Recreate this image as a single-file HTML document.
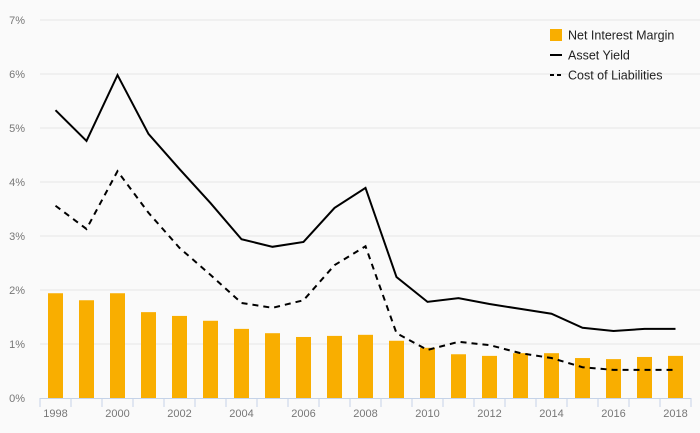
<!DOCTYPE html>
<html><head><meta charset="utf-8"><style>
body{margin:0;background:#fafafa;}
svg{display:block;font-family:"Liberation Sans",sans-serif;}
</style></head><body>
<svg id="c" width="700" height="433"></svg>
<script>
const years=[1998,1999,2000,2001,2002,2003,2004,2005,2006,2007,2008,2009,2010,2011,2012,2013,2014,2015,2016,2017,2018];
const nim=[1.94,1.81,1.94,1.59,1.52,1.43,1.28,1.20,1.13,1.15,1.17,1.06,0.93,0.81,0.78,0.83,0.83,0.74,0.72,0.76,0.78];
const assetYield=[5.33,4.76,5.98,4.89,4.24,3.61,2.94,2.80,2.89,3.52,3.89,2.24,1.78,1.85,1.74,1.65,1.56,1.30,1.24,1.28,1.28];
const costLiab=[3.56,3.13,4.20,3.43,2.78,2.28,1.76,1.67,1.81,2.46,2.81,1.20,0.89,1.04,0.98,0.83,0.74,0.57,0.52,0.52,0.52];
const yTicks=[0,1,2,3,4,5,6,7];
const xLabels=[1998,2000,2002,2004,2006,2008,2010,2012,2014,2016,2018];

const NS="http://www.w3.org/2000/svg";
const svg=document.getElementById('c');
const x0=40,band=31,y0=398,ppu=54;
const xs=i=>x0+band*i+band/2;
const ys=v=>y0-v*ppu;
function mk(t,a,p){const e=document.createElementNS(NS,t);for(const k in a)e.setAttribute(k,a[k]);(p||svg).appendChild(e);return e;}

yTicks.forEach(t=>{
  if(t>0){const g=mk('line',{x1:x0,x2:700,y1:ys(t),y2:ys(t),stroke:'#e6e6e6','stroke-width':1});
  
  }
  const l=mk('text',{x:25,y:ys(t)+4,'text-anchor':'end','font-size':11,fill:'#777'});
  l.textContent=t+'%';
  
  
});
years.forEach((yr,i)=>{
  const b=mk('rect',{x:xs(i)-7.5,y:ys(nim[i]),width:15,height:nim[i]*ppu,fill:'#f9ae00'});
  
  
});
const ax=mk('line',{x1:x0,x2:x0+band*years.length,y1:y0+0.5,y2:y0+0.5,stroke:'#c5d3e8'});


for(let i=0;i<=years.length;i++){
  const t=mk('line',{x1:x0+band*i,x2:x0+band*i,y1:y0,y2:y0+9,stroke:'#c5d3e8'});
  
  
}
years.forEach((yr,i)=>{
  if(xLabels.indexOf(yr)<0)return;
  const l=mk('text',{x:xs(i),y:417,'text-anchor':'middle','font-size':11,fill:'#777'});
  l.textContent=yr;
  
  
});
function line(vals,dash,name){
  const d=vals.map((v,i)=>(i?'L':'M')+xs(i)+','+ys(v)).join(' ');
  const p=mk('path',{d:d,fill:'none',stroke:'#000','stroke-width':2,'stroke-dasharray':dash||'none'});
  
  
}
line(assetYield,null,'asset-yield-line');
line(costLiab,'6,5','cost-of-liabilities-line');

const lg=mk('g',{});


const items=[['Net Interest Margin','sq'],['Asset Yield','solid'],['Cost of Liabilities','dash']];
items.forEach((it,k)=>{
  const cy=35+k*20;
  if(it[1]=='sq')mk('rect',{x:550,y:cy-6,width:12,height:12,fill:'#f9ae00'},lg);
  else mk('line',{x1:550,x2:562,y1:cy,y2:cy,stroke:'#000','stroke-width':2,'stroke-dasharray':it[1]=='dash'?'4,3':'none'},lg);
  const t=mk('text',{x:568,y:cy+4.5,'font-size':12.5,fill:'#222'},lg);
  t.textContent=it[0];
  
  
});
</script>
</body></html>
